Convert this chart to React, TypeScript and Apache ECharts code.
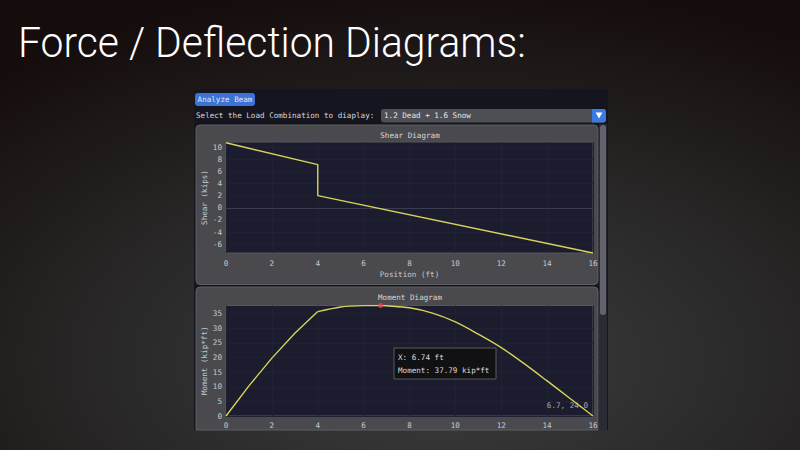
import React, { useEffect, useRef } from "react";
import * as echarts from "echarts";

const xTicks = [0, 2, 4, 6, 8, 10, 12, 14, 16];
const shearTicks = [-6, -4, -2, 0, 2, 4, 6, 8, 10];
const momentTicks = [0, 5, 10, 15, 20, 25, 30, 35];

const shearX = [0, 4, 4, 16];
const shearV = [10.7, 7.1, 2.0, -7.44];

const momentX = [0, 1, 2, 3, 4, 5, 6, 6.74, 7, 8, 9, 10, 11, 12, 13, 14, 15, 16];
const momentV = [0, 10.3, 19.8, 28.3, 35.7, 37.3, 37.75, 37.79, 37.7, 37.0, 35.2, 32.2, 28.0, 23.4, 17.9, 12.0, 6.0, 0];

const peakPoint = [6.74, 37.79];
const shearRange = [-7.44, 10.83];
const momentRange = [0, 37.79];
const breakX = 4;

const MONO = "DejaVu Sans Mono";
const FS = 7.6;
const LABEL = "#c9c9cc";
const YELLOW = "#d8d35a";
const GRIDC = "#202133";

function axisCommon(name: string, vertical: boolean) {
  return {
    name,
    nameLocation: "middle" as const,
    nameGap: vertical ? 18 : 14,
    nameRotate: vertical ? 90 : 0,
    nameTextStyle: { color: LABEL, fontFamily: MONO, fontSize: FS },
    axisLine: { show: false },
    axisTick: { show: false },
    splitLine: { show: false },
  };
}

function gridSeries(idx: number, xs: number[], ys: number[], zero: boolean) {
  const data: any[] = [];
  xs.forEach((v) => data.push({ xAxis: v, lineStyle: { color: GRIDC, width: 1, type: "solid" } }));
  ys.forEach((v) =>
    data.push({
      yAxis: v,
      lineStyle: { color: zero && v === 0 ? "#3a3b4f" : GRIDC, width: 1, type: "solid" },
    })
  );
  return {
    type: "line",
    xAxisIndex: idx,
    yAxisIndex: idx,
    data: [],
    symbol: "none",
    silent: true,
    z: 1,
    markLine: {
      silent: true,
      z: 1,
      symbol: ["none", "none"],
      label: { show: false },
      emphasis: { disabled: true },
      animation: false,
      data,
    },
  };
}

export default function App() {
  const ref = useRef<HTMLDivElement>(null);
  useEffect(() => {
    document.body.style.margin = "0";
    const chart = echarts.init(ref.current!, null, { renderer: "svg" });
    const momentPts = momentX.map((x, i) => [x, momentV[i]]);
    const momentA = momentPts.filter((p) => p[0] <= breakX);
    const momentB = momentPts.filter((p) => p[0] >= breakX);
    chart.setOption({
      animation: false,
      backgroundColor: {
        type: "radial",
        x: 0.55,
        y: 0.8,
        r: 0.85,
        colorStops: [
          { offset: 0, color: "#3e3e3e" },
          { offset: 0.45, color: "#2b2a2a" },
          { offset: 1, color: "#150c0c" },
        ],
      },
      grid: [
        {
          left: 226, top: 142, width: 367, height: 111,
          show: true, backgroundColor: "#1b1c2d", borderColor: "#55565f", borderWidth: 1,
        },
        {
          left: 226, top: 305.5, width: 367, height: 110.5,
          show: true, backgroundColor: "#1b1c2d", borderColor: "#55565f", borderWidth: 1,
        },
      ],
      xAxis: [
        {
          ...axisCommon("Position (ft)", false),
          gridIndex: 0, type: "value", min: 0, max: 16, interval: 2,
          nameGap: 17,
          axisLabel: { color: LABEL, fontFamily: MONO, fontSize: FS, margin: 6 },
        },
        {
          ...axisCommon("", false),
          gridIndex: 1, type: "value", min: 0, max: 16, interval: 2,
          axisLabel: { color: LABEL, fontFamily: MONO, fontSize: FS, margin: 5 },
        },
      ],
      yAxis: [
        {
          ...axisCommon("Shear (kips)", true),
          gridIndex: 0, type: "value", min: shearRange[0], max: shearRange[1],
          axisLabel: { color: LABEL, fontFamily: MONO, fontSize: FS, margin: 4, customValues: shearTicks },
          axisTick: { show: false, customValues: shearTicks },
        },
        {
          ...axisCommon("Moment (kip*ft)", true),
          gridIndex: 1, type: "value", min: momentRange[0], max: momentRange[1],
          axisLabel: { color: LABEL, fontFamily: MONO, fontSize: FS, margin: 4, customValues: momentTicks },
          axisTick: { show: false, customValues: momentTicks },
        },
      ],
      series: [
        gridSeries(0, xTicks, shearTicks, true),
        gridSeries(1, xTicks, momentTicks, false),
        {
          type: "line", xAxisIndex: 0, yAxisIndex: 0,
          data: shearX.map((x, i) => [x, shearV[i]]),
          symbol: "none", showSymbol: false, silent: true,
          lineStyle: { color: YELLOW, width: 1.4 },
          emphasis: { disabled: true },
          z: 6,
        },
        {
          type: "line", xAxisIndex: 1, yAxisIndex: 1,
          data: momentA,
          symbol: "none", showSymbol: false, silent: true,
          lineStyle: { color: YELLOW, width: 1.4 },
          emphasis: { disabled: true },
          z: 6,
        },
        {
          type: "line", xAxisIndex: 1, yAxisIndex: 1,
          data: momentB,
          symbol: "none", showSymbol: false, silent: true,
          smooth: 0.3,
          lineStyle: { color: YELLOW, width: 1.4 },
          emphasis: { disabled: true },
          z: 6,
        },
        {
          type: "scatter", xAxisIndex: 1, yAxisIndex: 1,
          data: [peakPoint], symbolSize: 5, silent: true,
          itemStyle: { color: "#e8455c" }, z: 7,
        },
      ],
      graphic: [
        {
          type: "text", x: 18, y: 21, scaleX: 0.95, z: 10,
          style: { text: "Force / Deflection Diagrams:", fill: "#ffffff", font: "300 43px Roboto" },
        },
        // app panel
        { type: "rect", z: -10, shape: { x: 194, y: 89, width: 414, height: 341 }, style: { fill: "#15151f" } },
        // analyze button
        { type: "rect", z: -9, shape: { x: 195, y: 93, width: 60, height: 13, r: 3 }, style: { fill: "#3a72d6" } },
        {
          type: "text", z: -8, x: 225, y: 99.5,
          style: { text: "Analyze Beam", fill: "#e4e8f4", font: `${FS}px '${MONO}'`, align: "center", verticalAlign: "middle" },
        },
        {
          type: "text", z: -8, x: 196, y: 115.5,
          style: { text: "Select the Load Combination to diaplay:", fill: "#d8d8d8", font: `${FS}px '${MONO}'`, verticalAlign: "middle" },
        },
        // dropdown
        { type: "rect", z: -9, shape: { x: 381, y: 109, width: 225, height: 13.5, r: 3 }, style: { fill: "#4e4e55" } },
        { type: "rect", z: -8, shape: { x: 592, y: 109, width: 14, height: 13.5, r: [0, 3, 3, 0] }, style: { fill: "#3d7ae0" } },
        {
          type: "polygon", z: -7,
          shape: { points: [[595.5, 112.5], [602.5, 112.5], [599, 118.5]] },
          style: { fill: "#ffffff" },
        },
        {
          type: "text", z: -8, x: 384, y: 115.8,
          style: { text: "1.2 Dead + 1.6 Snow", fill: "#e6e6e6", font: `${FS}px '${MONO}'`, verticalAlign: "middle" },
        },
        // frames
        { type: "rect", z: -9, shape: { x: 196, y: 125, width: 402, height: 159.5, r: 4 }, style: { fill: "#4a4a4e", stroke: "#5e5e63", lineWidth: 1 } },
        { type: "rect", z: -9, shape: { x: 196, y: 287, width: 402, height: 143, r: [4, 4, 0, 0] }, style: { fill: "#4a4a4e", stroke: "#5e5e63", lineWidth: 1 } },
        {
          type: "text", z: -8, x: 410, y: 135,
          style: { text: "Shear Diagram", fill: "#d8d8d8", font: `${FS}px '${MONO}'`, align: "center", verticalAlign: "middle" },
        },
        {
          type: "text", z: -8, x: 410, y: 297.5,
          style: { text: "Moment Diagram", fill: "#d8d8d8", font: `${FS}px '${MONO}'`, align: "center", verticalAlign: "middle" },
        },
        // scrollbar
        { type: "rect", z: -9, shape: { x: 599, y: 124, width: 8, height: 306 }, style: { fill: "#2b2b35" } },
        { type: "rect", z: -8, shape: { x: 600, y: 125, width: 6, height: 190, r: 3 }, style: { fill: "#63636d" } },
        // tooltip box
        { type: "rect", z: 20, shape: { x: 394, y: 348, width: 102, height: 31 }, style: { fill: "rgba(16,16,18,0.92)", stroke: "#5a5a5e", lineWidth: 1 } },
        {
          type: "text", z: 21, x: 398, y: 357.5,
          style: { text: "X: 6.74 ft", fill: "#dcdcdc", font: `${FS}px '${MONO}'`, verticalAlign: "middle" },
        },
        {
          type: "text", z: 21, x: 398, y: 370.5,
          style: { text: "Moment: 37.79 kip*ft", fill: "#dcdcdc", font: `${FS}px '${MONO}'`, verticalAlign: "middle" },
        },
        {
          type: "text", z: 2, x: 588, y: 405,
          style: { text: "6.7, 24.0", fill: "#a9a9b0", font: `${FS}px '${MONO}'`, align: "right", verticalAlign: "middle" },
        },
      ],
    });
    return () => chart.dispose();
  }, []);
  return <div ref={ref} style={{ width: 800, height: 450 }} />;
}
